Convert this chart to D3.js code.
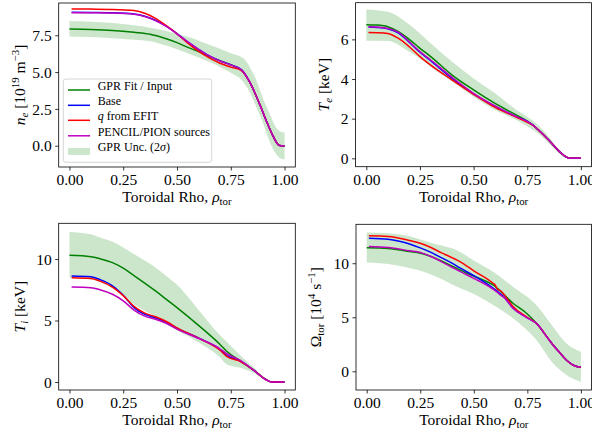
<!DOCTYPE html>
<html><head><meta charset="utf-8">
<script src="https://cdn.jsdelivr.net/npm/d3@7"></script>
<style>
body{margin:0;background:#fff}
svg{display:block}
text{font-family:"Liberation Serif","DejaVu Serif",serif;fill:#000}
</style>
</head><body>
<svg id="c" width="592" height="433"></svg>
<script>
// ---------------- data ----------------
const xTicks = [0, 0.25, 0.5, 0.75, 1.0];
const xTickLabels = ["0.00", "0.25", "0.50", "0.75", "1.00"];
const seriesNames = ["GPR Fit / Input", "Base", "q from EFIT", "PENCIL/PION sources", "GPR Unc. (2σ)"];

// Panel 1: n_e
const neTicks = [0, 2.5, 5, 7.5];
const neTickLabels = ["0.0", "2.5", "5.0", "7.5"];
const neRhoFit = [0, 0.1, 0.2, 0.3, 0.374, 0.45, 0.5, 0.55, 0.6, 0.65, 0.7, 0.75, 0.8, 0.837, 0.886, 0.917, 0.948, 0.97, 0.985, 1.0];
const neFit    = [7.93, 7.9, 7.83, 7.7, 7.57, 7.27, 7.0, 6.68, 6.4, 6.07, 5.78, 5.5, 5.14, 4.35, 2.76, 1.63, 0.61, 0.08, 0.0, 0.0];
const neRhoSrc = [0.01, 0.1, 0.2, 0.3, 0.35, 0.4, 0.45, 0.5, 0.55, 0.6, 0.65, 0.7, 0.75, 0.8, 0.837, 0.886, 0.917, 0.948, 0.97, 0.985, 1.0];
const neBase   = [9.06, 9.05, 9.03, 8.95, 8.8, 8.52, 8.12, 7.62, 7.05, 6.55, 6.1, 5.76, 5.49, 5.15, 4.35, 2.76, 1.63, 0.61, 0.08, 0.0, 0.0];
const neEfit   = [9.29, 9.28, 9.26, 9.18, 9.0, 8.65, 8.15, 7.6, 6.97, 6.42, 5.96, 5.6, 5.34, 5.1, 4.35, 2.76, 1.63, 0.61, 0.08, 0.0, 0.0];
const nePencil = [9.04, 9.03, 9.01, 8.93, 8.78, 8.5, 8.1, 7.6, 7.05, 6.55, 6.1, 5.75, 5.48, 5.15, 4.35, 2.76, 1.63, 0.61, 0.08, 0.0, 0.0];
const neBandRho = [0, 0.1, 0.2, 0.3, 0.374, 0.45, 0.5, 0.6, 0.65, 0.7, 0.75, 0.81, 0.84, 0.87, 0.9, 0.933, 0.96, 0.98, 1.0];
const neUpper   = [8.47, 8.42, 8.33, 8.18, 8.02, 7.8, 7.6, 7.15, 6.85, 6.58, 6.28, 5.92, 5.3, 4.4, 3.2, 2.09, 1.25, 0.97, 0.9];
const neLower   = [7.41, 7.38, 7.3, 7.2, 7.1, 6.8, 6.55, 6.0, 5.7, 5.35, 4.95, 4.3, 3.6, 2.6, 1.55, 0.2, -0.55, -0.85, -0.93];

// Panel 2: T_e
const teTicks = [0, 2, 4, 6];
const teTickLabels = ["0", "2", "4", "6"];
const teRhoFit = [0, 0.05, 0.1, 0.15, 0.2, 0.25, 0.3, 0.4, 0.5, 0.6, 0.7, 0.75, 0.78, 0.8, 0.85, 0.9, 0.93, 0.95, 1.0];
const teFit    = [6.74, 6.72, 6.64, 6.39, 6.0, 5.55, 5.13, 4.2, 3.45, 2.77, 2.18, 1.87, 1.65, 1.45, 0.92, 0.34, 0.08, 0.0, 0.0];
const teRhoSrc = [0.01, 0.05, 0.1, 0.15, 0.2, 0.25, 0.3, 0.4, 0.5, 0.6, 0.7, 0.75, 0.78, 0.8, 0.85, 0.9, 0.93, 0.95, 1.0];
const teBase   = [6.62, 6.6, 6.53, 6.32, 5.86, 5.35, 4.92, 4.03, 3.24, 2.62, 2.09, 1.86, 1.65, 1.45, 0.92, 0.34, 0.08, 0.0, 0.0];
const teEfit   = [6.35, 6.34, 6.3, 6.05, 5.63, 5.13, 4.7, 3.95, 3.23, 2.57, 2.07, 1.82, 1.64, 1.45, 0.92, 0.34, 0.08, 0.0, 0.0];
const tePencil = [6.64, 6.62, 6.55, 6.35, 5.88, 5.38, 4.96, 4.08, 3.28, 2.64, 2.1, 1.86, 1.65, 1.45, 0.92, 0.34, 0.08, 0.0, 0.0];
const teBandRho = [0, 0.1, 0.2, 0.25, 0.3, 0.4, 0.5, 0.6, 0.7, 0.75, 0.8, 0.85, 0.9, 0.95, 1.0];
const teUpper   = [7.51, 7.39, 6.75, 6.3, 5.8, 4.87, 4.03, 3.28, 2.44, 2.1, 1.68, 1.09, 0.42, 0.05, 0.03];
const teLower   = [5.93, 5.92, 5.38, 5.04, 4.62, 3.87, 3.11, 2.44, 1.93, 1.6, 1.26, 0.76, 0.22, -0.05, -0.03];

// Panel 3: T_i
const tiTicks = [0, 5, 10];
const tiTickLabels = ["0", "5", "10"];
const tiRhoFit = [0, 0.1, 0.142, 0.2, 0.25, 0.3, 0.4, 0.452, 0.5, 0.607, 0.7, 0.731, 0.793, 0.855, 0.917, 0.94, 1.0];
const tiFit    = [10.3, 10.19, 10.02, 9.7, 9.25, 8.65, 7.4, 6.7, 6.05, 4.5, 3.05, 2.5, 1.72, 0.98, 0.16, 0.0, 0.0];
const tiRhoSrc = [0.01, 0.1, 0.142, 0.2, 0.25, 0.3, 0.35, 0.4, 0.452, 0.5, 0.607, 0.7, 0.731, 0.793, 0.855, 0.917, 0.94, 1.0];
const tiBase   = [8.62, 8.55, 8.32, 7.82, 7.05, 6.05, 5.5, 5.22, 4.85, 4.38, 3.52, 2.62, 2.15, 1.72, 0.98, 0.16, 0.0, 0.0];
const tiEfit   = [8.48, 8.42, 8.2, 7.72, 7.02, 6.15, 5.6, 5.3, 4.9, 4.4, 3.5, 2.58, 2.08, 1.68, 0.98, 0.16, 0.0, 0.0];
const tiPencil = [7.72, 7.67, 7.5, 7.13, 6.6, 5.85, 5.35, 5.1, 4.75, 4.3, 3.5, 2.7, 2.3, 1.77, 0.98, 0.16, 0.0, 0.0];
const tiBandRho = [0, 0.1, 0.142, 0.2, 0.3, 0.4, 0.452, 0.5, 0.607, 0.7, 0.731, 0.793, 0.855, 0.917, 0.94, 1.0];
const tiUpper   = [12.2, 12.0, 11.75, 11.4, 10.4, 9.3, 8.6, 7.9, 5.72, 3.8, 3.28, 2.2, 1.2, 0.25, 0.03, 0.03];
const tiLower   = [8.48, 8.35, 8.1, 7.6, 6.3, 5.3, 4.7, 4.2, 3.15, 2.0, 1.45, 1.15, 0.75, 0.08, -0.03, -0.03];

// Panel 4: Omega_tor
const omTicks = [0, 5, 10];
const omTickLabels = ["0", "5", "10"];
const omRhoFit = [0, 0.1, 0.2, 0.25, 0.3, 0.4, 0.435, 0.5, 0.59, 0.683, 0.75, 0.792, 0.85, 0.87, 0.9, 0.932, 0.96, 0.98, 1.0];
const omFit    = [11.42, 11.36, 11.08, 10.93, 10.62, 9.72, 9.38, 8.8, 7.99, 6.3, 5.3, 4.44, 2.95, 2.44, 1.75, 1.05, 0.62, 0.45, 0.4];
const omRhoSrc = [0.01, 0.1, 0.2, 0.25, 0.3, 0.35, 0.4, 0.435, 0.5, 0.59, 0.6, 0.61, 0.625, 0.645, 0.683, 0.75, 0.792, 0.85, 0.87, 0.9, 0.932, 0.96, 0.98, 1.0];
const omBase   = [12.31, 12.22, 11.78, 11.42, 11.0, 10.5, 9.98, 9.56, 8.85, 7.7, 7.55, 7.4, 7.15, 6.8, 5.86, 4.95, 4.44, 2.95, 2.44, 1.75, 1.05, 0.62, 0.45, 0.4];
const omEfit   = [12.53, 12.47, 12.1, 11.85, 11.45, 10.95, 10.5, 10.15, 9.3, 8.15, 7.98, 7.6, 7.45, 7.0, 6.0, 5.0, 4.44, 2.95, 2.44, 1.75, 1.05, 0.62, 0.45, 0.4];
const omPencil = [11.54, 11.45, 11.15, 11.0, 10.62, 10.12, 9.6, 9.24, 8.6, 7.6, 7.45, 7.3, 7.05, 6.75, 5.83, 4.95, 4.44, 2.95, 2.44, 1.75, 1.05, 0.62, 0.45, 0.4];
const omBandRho = [0, 0.1, 0.2, 0.25, 0.3, 0.435, 0.5, 0.59, 0.683, 0.792, 0.87, 0.932, 1.0];
const omUpper   = [12.84, 12.78, 12.5, 12.2, 11.9, 11.07, 10.25, 9.22, 7.83, 6.14, 4.13, 2.59, 1.8];
const omLower   = [10.06, 9.92, 9.55, 9.3, 8.95, 7.7, 7.15, 6.14, 4.91, 2.9, 0.74, -0.34, -0.99];

// ---------------- drawing ----------------
const colors = {fit: "#008000", base: "#0000ff", efit: "#ff0000", pencil: "#bf00bf", band: "#008000"};
const svg = d3.select("#c");
const zip = (xs, ys) => xs.map((x, i) => [x, ys[i]]);

const panels = [
  {id: "p1", l: 58.7, r: 295.3, t: 3, b: 167, yDom: [-1.447, 9.694], ticks: neTicks, tickLabels: neTickLabels,
   ylabX: 25, xlabY: 202, tickLabY: 184.8,
   ylab: [{t: "n", it: 1}, {t: "e", it: 1, sub: 1}, {t: " [10"}, {t: "19", sup: 1}, {t: " m"}, {t: "−3", sup: 1}, {t: "]"}],
   band: [neBandRho, neUpper, neLower],
   lines: [[neRhoFit, neFit, colors.fit], [neRhoSrc, neBase, colors.base], [neRhoSrc, neEfit, colors.efit], [neRhoSrc, nePencil, colors.pencil]],
   legend: true},
  {id: "p2", l: 355.6, r: 591.6, t: 2.7, b: 166.7, yDom: [-0.423, 7.85], ticks: teTicks, tickLabels: teTickLabels,
   ylabX: 329, xlabY: 202, tickLabY: 184.8,
   ylab: [{t: "T", it: 1}, {t: "e", it: 1, sub: 1}, {t: " [keV]"}],
   band: [teBandRho, teUpper, teLower],
   lines: [[teRhoFit, teFit, colors.fit], [teRhoSrc, teBase, colors.base], [teRhoSrc, teEfit, colors.efit], [teRhoSrc, tePencil, colors.pencil]]},
  {id: "p3", l: 58.7, r: 295.3, t: 223.3, b: 390, yDom: [-0.65, 12.9], ticks: tiTicks, tickLabels: tiTickLabels,
   ylabX: 25, xlabY: 425, tickLabY: 407.8,
   ylab: [{t: "T", it: 1}, {t: "i", it: 1, sub: 1}, {t: " [keV]"}],
   band: [tiBandRho, tiUpper, tiLower],
   lines: [[tiRhoFit, tiFit, colors.fit], [tiRhoSrc, tiBase, colors.base], [tiRhoSrc, tiEfit, colors.efit], [tiRhoSrc, tiPencil, colors.pencil]]},
  {id: "p4", l: 356, r: 591.6, t: 224.3, b: 390, yDom: [-1.73, 13.6], ticks: omTicks, tickLabels: omTickLabels,
   ylabX: 321, xlabY: 425, tickLabY: 407.8,
   ylab: [{t: "Ω"}, {t: "tor", sub: 1}, {t: " [10"}, {t: "4", sup: 1}, {t: " s"}, {t: "−1", sup: 1}, {t: "]"}],
   band: [omBandRho, omUpper, omLower],
   lines: [[omRhoFit, omFit, colors.fit], [omRhoSrc, omBase, colors.base], [omRhoSrc, omEfit, colors.efit], [omRhoSrc, omPencil, colors.pencil]]}
];

function richText(sel, parts, size) {
  let cur = 0;
  parts.forEach(p => {
    let target = 0, fs = size;
    if (p.sub) { target = size * 0.22; fs = size * 0.7; }
    if (p.sup) { target = -size * 0.38; fs = size * 0.7; }
    sel.append("tspan").attr("dy", target - cur).attr("font-size", fs)
      .attr("font-style", p.it ? "italic" : "normal").text(p.t);
    cur = target;
  });
}

const FS = 15.5;
const LFS = 12;
panels.forEach(P => {
  const x = d3.scaleLinear().domain([-0.05, 1.05]).range([P.l, P.r]);
  const y = d3.scaleLinear().domain(P.yDom).range([P.b, P.t]);
  const g = svg.append("g");
  g.append("clipPath").attr("id", "clip-" + P.id).append("rect")
    .attr("x", P.l).attr("y", P.t).attr("width", P.r - P.l).attr("height", P.b - P.t);
  const plot = g.append("g").attr("clip-path", `url(#clip-${P.id})`);

  const [bx, bu, bl] = P.band;
  const area = d3.area().x(d => x(d[0])).y0(d => y(d[2])).y1(d => y(d[1])).curve(d3.curveMonotoneX);
  plot.append("path").datum(bx.map((v, i) => [v, bu[i], bl[i]]))
    .attr("d", area).attr("fill", colors.band).attr("fill-opacity", 0.2).attr("stroke", "none");

  const line = d3.line().x(d => x(d[0])).y(d => y(d[1])).curve(d3.curveMonotoneX);
  P.lines.forEach(([xs, ys, c]) => {
    plot.append("path").datum(zip(xs, ys)).attr("d", line)
      .attr("fill", "none").attr("stroke", c).attr("stroke-width", 1.5).attr("stroke-linejoin", "round");
  });

  // axes
  const xAxis = d3.axisBottom(x).tickValues(xTicks).tickSize(3.5).tickPadding(3.5)
    .tickFormat((d, i) => xTickLabels[i]);
  const gx = g.append("g").attr("transform", `translate(0,${P.b})`).call(xAxis);
  const yAxis = d3.axisLeft(y).tickValues(P.ticks).tickSize(3.5).tickPadding(3.5)
    .tickFormat((d, i) => P.tickLabels[i]);
  const gy = g.append("g").attr("transform", `translate(${P.l},0)`).call(yAxis);
  [gx, gy].forEach(a => {
    a.select(".domain").remove();
    a.selectAll(".tick line").attr("stroke", "#000").attr("stroke-width", 0.8);
    a.selectAll(".tick text").attr("font-family", '"Liberation Serif", serif').attr("font-size", FS).attr("fill", "#000");
  });
  gx.selectAll(".tick text").attr("dy", null).attr("y", P.tickLabY - P.b);
  gy.selectAll(".tick text").attr("dy", "0.34em");

  g.append("rect").attr("x", P.l).attr("y", P.t).attr("width", P.r - P.l).attr("height", P.b - P.t)
    .attr("fill", "none").attr("stroke", "#000").attr("stroke-width", 0.8);

  // x label
  const xl = g.append("text").attr("x", (P.l + P.r) / 2).attr("y", P.xlabY).attr("text-anchor", "middle").attr("font-size", FS);
  richText(xl, [{t: "Toroidal Rho, "}, {t: "ρ", it: 1}, {t: "tor", sub: 1}], FS);
  // y label
  const yl = g.append("text").attr("transform", `translate(${P.ylabX},${(P.t + P.b) / 2}) rotate(-90)`)
    .attr("text-anchor", "middle").attr("dy", "0.35em").attr("font-size", FS);
  richText(yl, P.ylab, FS);

  if (P.legend) {
    const lg = g.append("g");
    lg.append("rect").attr("x", 63.3).attr("y", 79).attr("width", 148.4).attr("height", 83.3)
      .attr("rx", 2.5).attr("fill", "#fff").attr("fill-opacity", 0.8).attr("stroke", "#cccccc").attr("stroke-width", 0.8);
    const rows = [90, 105.3, 120.3, 135.8, 151.4];
    const lc = [colors.fit, colors.base, colors.efit, colors.pencil];
    const labels = [
      [{t: "GPR Fit / Input"}],
      [{t: "Base"}],
      [{t: "q", it: 1}, {t: " from EFIT"}],
      [{t: "PENCIL/PION sources"}],
      [{t: "GPR Unc. (2"}, {t: "σ", it: 1}, {t: ")"}]
    ];
    rows.forEach((ry, i) => {
      if (i < 4) {
        lg.append("line").attr("x1", 68).attr("x2", 90).attr("y1", ry).attr("y2", ry)
          .attr("stroke", lc[i]).attr("stroke-width", 1.5);
      } else {
        lg.append("rect").attr("x", 68).attr("y", ry - 3.5).attr("width", 22).attr("height", 7)
          .attr("fill", colors.band).attr("fill-opacity", 0.2);
      }
      const t = lg.append("text").attr("x", 97.7).attr("y", ry).attr("dy", "0.33em").attr("font-size", LFS);
      richText(t, labels[i], LFS);
    });
  }
});
</script>
</body></html>
